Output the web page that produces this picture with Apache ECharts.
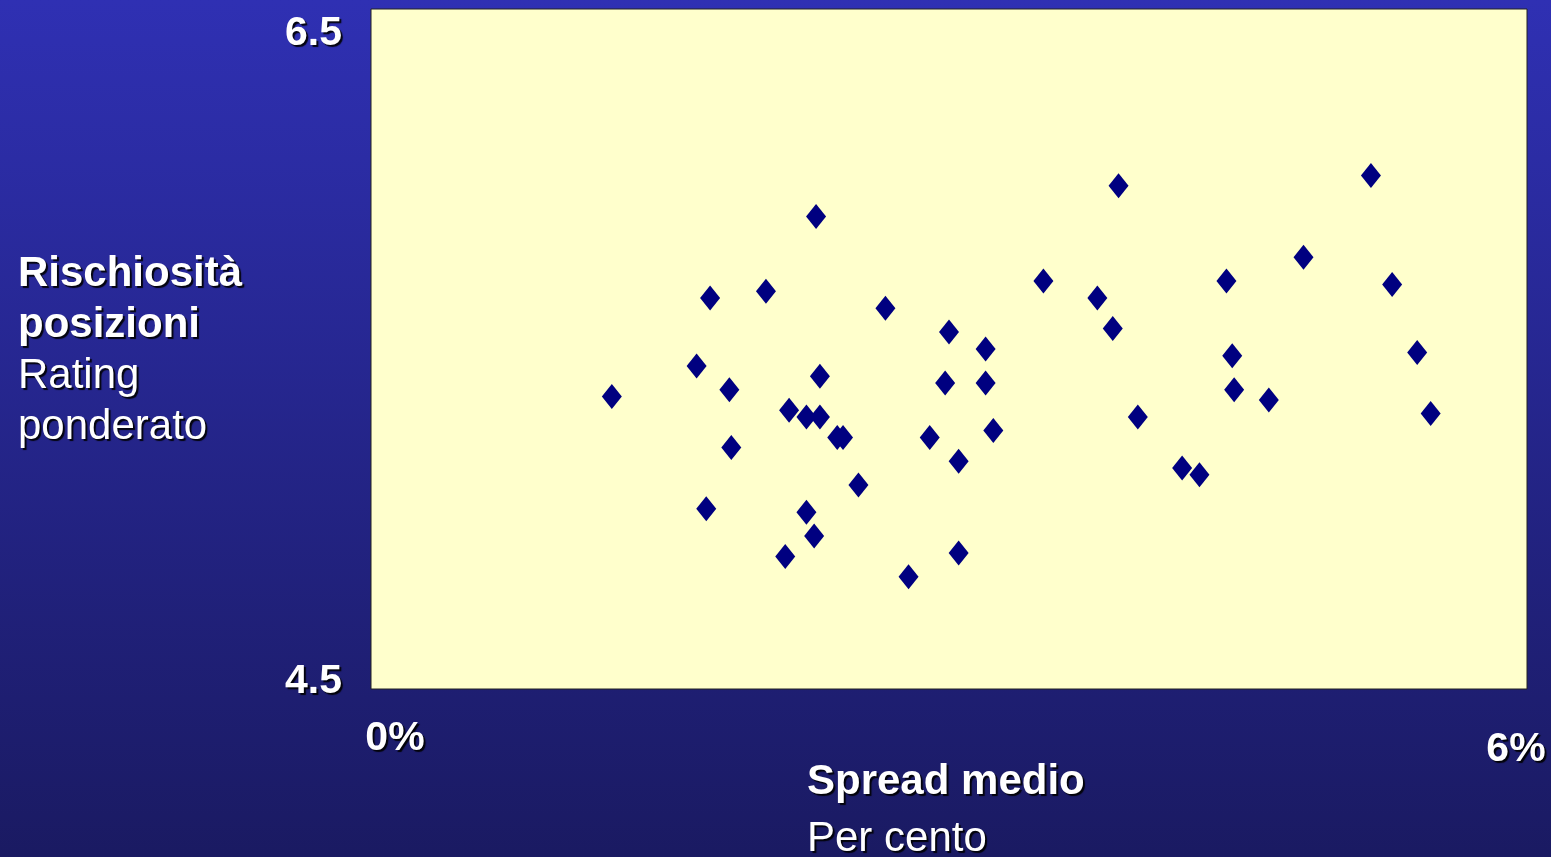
<!DOCTYPE html>
<html>
<head>
<meta charset="utf-8">
<title>Rischiosità posizioni vs Spread medio</title>
<script src="https://cdn.jsdelivr.net/npm/echarts@6/dist/echarts.min.js"></script>
<style>
  html, body { margin: 0; padding: 0; }
  #main { width: 1551px; height: 857px; }
</style>
</head>
<body>
<div id="main"></div>
<script>
// spread medio (per cento)
var spread = [1.25, 1.69, 1.76, 1.86, 1.87, 1.74, 2.05, 2.17, 2.15, 2.26, 2.33,
  2.31, 2.33, 2.26, 2.30, 2.42, 2.45, 2.53, 2.67, 2.79, 2.90, 3.00, 2.98,
  3.05, 3.05, 3.19, 3.19, 3.23, 3.49, 3.77, 3.85, 3.88, 3.98, 4.21, 4.30,
  4.44, 4.47, 4.48, 4.66, 4.84, 5.19, 5.30, 5.43, 5.50];
// rating ponderato
var rating = [5.36, 5.45, 5.65, 5.38, 5.21, 5.03, 5.67, 5.32, 4.89, 5.30, 5.30,
  5.89, 5.42, 5.02, 4.95, 5.24, 5.24, 5.10, 5.62, 4.83, 5.24, 5.55, 5.40,
  5.17, 4.90, 5.50, 5.40, 5.26, 5.70, 5.65, 5.56, 5.98, 5.30, 5.15, 5.13,
  5.70, 5.48, 5.38, 5.35, 5.77, 6.01, 5.69, 5.49, 5.31];
var xTicks = [0, 6];
var yTicks = [4.5, 6.5];

var points = [];
for (var i = 0; i < spread.length; i++) {
  points.push([spread[i], rating[i]]);
}

var font = 'Arial, "Liberation Sans", sans-serif';
var shadow = {
  textShadowColor: 'rgba(0,0,0,0.9)',
  textShadowOffsetX: 2,
  textShadowOffsetY: 2,
  textShadowBlur: 1
};

var myChart = echarts.init(document.getElementById('main'));
var option = {
  animation: false,
  backgroundColor: new echarts.graphic.LinearGradient(0, 0, 0, 1, [
    { offset: 0, color: '#2f30b3' },
    { offset: 1, color: '#1a1a62' }
  ]),
  grid: {
    left: 371,
    right: 24,
    top: 9,
    bottom: 168,
    show: true,
    backgroundColor: '#ffffcc',
    borderColor: '#222',
    borderWidth: 1
  },
  xAxis: {
    type: 'value',
    min: xTicks[0],
    max: xTicks[1],
    interval: xTicks[1] - xTicks[0],
    axisLine: { show: false },
    axisTick: { show: false },
    splitLine: { show: false },
    axisLabel: {
      margin: 29,
      verticalAlign: 'top',
      formatter: function (v) {
        return v === xTicks[0] ? '{a|' + v + '%}' : '{b|' + v + '%}';
      },
      rich: {
        a: Object.assign({ color: '#fff', fontFamily: font, fontWeight: 'bold', fontSize: 41, padding: [0, 0, 0, 48] }, shadow),
        b: Object.assign({ color: '#fff', fontFamily: font, fontWeight: 'bold', fontSize: 41, padding: [11, 22, 0, 0] }, shadow)
      }
    }
  },
  yAxis: {
    type: 'value',
    min: yTicks[0],
    max: yTicks[1],
    interval: yTicks[1] - yTicks[0],
    axisLine: { show: false },
    axisTick: { show: false },
    splitLine: { show: false },
    axisLabel: {
      margin: 29,
      formatter: function (v) {
        return v === yTicks[1] ? '{t|' + v.toFixed(1) + '}' : '{d|' + v.toFixed(1) + '}';
      },
      rich: {
        t: Object.assign({ color: '#fff', fontFamily: font, fontWeight: 'bold', fontSize: 41, padding: [50, 0, 0, 0] }, shadow),
        d: Object.assign({ color: '#fff', fontFamily: font, fontWeight: 'bold', fontSize: 41, padding: [0, 0, 14, 0] }, shadow)
      }
    }
  },
  graphic: [
    {
      type: 'text',
      left: 18,
      top: 253,
      style: {
        text: '{b|Rischiosità}\n{b|posizioni}\n{r|Rating}\n{r|ponderato}',
        rich: {
          b: Object.assign({ fill: '#fff', fontFamily: font, fontWeight: 'bold', fontSize: 42, lineHeight: 51 }, shadow),
          r: Object.assign({ fill: '#fff', fontFamily: font, fontSize: 42, lineHeight: 51 }, shadow)
        }
      }
    },
    {
      type: 'text',
      left: 807,
      top: 761,
      style: {
        text: '{b|Spread medio}\n{r|Per cento}',
        rich: {
          b: Object.assign({ fill: '#fff', fontFamily: font, fontWeight: 'bold', fontSize: 42, lineHeight: 57 }, shadow),
          r: Object.assign({ fill: '#fff', fontFamily: font, fontSize: 42, lineHeight: 57 }, shadow)
        }
      }
    }
  ],
  series: [{
    type: 'scatter',
    symbol: 'diamond',
    symbolSize: [20, 25],
    itemStyle: { color: '#000080', opacity: 1 },
    data: points
  }]
};
myChart.setOption(option);
</script>
</body>
</html>
